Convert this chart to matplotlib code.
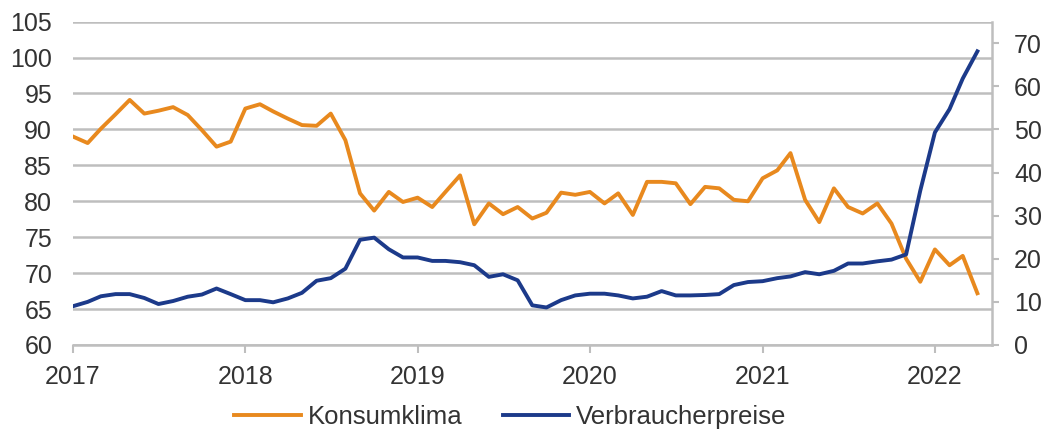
import matplotlib
matplotlib.use("Agg")
import matplotlib.pyplot as plt
import numpy as np
import pandas as pd

plt.rcParams['font.family'] = ['Liberation Sans', 'DejaVu Sans']

# monthly data, Jan 2017 - Apr 2022
months = pd.date_range("2017-01-01", "2022-04-01", freq="MS")

konsumklima = [
    89.0, 88.1, 90.1, 92.1, 94.1, 92.2, 92.6, 93.1, 92.0, 89.9, 87.6, 88.3,   # 2017
    92.9, 93.5, 92.5, 91.5, 90.6, 90.5, 92.2, 88.5, 81.1, 78.7, 81.3, 79.9,   # 2018
    80.5, 79.2, 81.3, 83.6, 76.8, 79.7, 78.2, 79.2, 77.6, 78.4, 81.2, 80.9,   # 2019
    81.3, 79.7, 81.1, 78.1, 82.7, 82.7, 82.5, 79.6, 82.0, 81.8, 80.2, 80.0,   # 2020
    83.2, 84.3, 86.7, 80.2, 77.1, 81.8, 79.2, 78.3, 79.7, 76.9, 72.0, 68.8,   # 2021
    73.3, 71.1, 72.4, 67.2,                                                   # 2022
]

verbraucherpreise = [
    9.0, 10.0, 11.3, 11.8, 11.8, 10.9, 9.5, 10.2, 11.2, 11.7, 13.1, 11.8,     # 2017
    10.4, 10.4, 9.9, 10.8, 12.1, 14.9, 15.5, 17.7, 24.4, 24.9, 22.2, 20.3,    # 2018
    20.3, 19.5, 19.5, 19.2, 18.5, 15.8, 16.4, 15.0, 9.2, 8.7, 10.4, 11.5,     # 2019
    11.9, 11.9, 11.5, 10.8, 11.2, 12.5, 11.5, 11.5, 11.6, 11.8, 13.9, 14.6,   # 2020
    14.8, 15.5, 15.9, 16.9, 16.4, 17.2, 18.9, 18.9, 19.4, 19.8, 21.0, 35.8,   # 2021
    49.3, 54.7, 61.8, 68.1,                                                   # 2022
]

years = ["2017", "2018", "2019", "2020", "2021", "2022"]
left_ticks = [60, 65, 70, 75, 80, 85, 90, 95, 100, 105]
right_ticks = [0, 10, 20, 30, 40, 50, 60, 70]

orange = "#E8891E"
navy = "#1C3A8A"
grid_grey = "#BEBEBE"
text_col = "#333333"

fig = plt.figure(figsize=(10.45, 4.32), dpi=100)
ax = fig.add_axes([0.0699, 0.2014, 0.8794, 0.7486])
ax2 = ax.twinx()

ax.plot(months, konsumklima, color=orange, lw=2.8, solid_joinstyle="round",
        label="Konsumklima", zorder=3)
ax2.plot(months, verbraucherpreise, color=navy, lw=2.8, solid_joinstyle="round",
         label="Verbraucherpreise", zorder=3)

ax.set_ylim(60, 105)
ax2.set_ylim(0, 75)
ax.set_xlim(pd.Timestamp("2017-01-01"), pd.Timestamp("2022-05-02"))

ax.set_yticks(left_ticks)
ax2.set_yticks(right_ticks)
ax.set_xticks([pd.Timestamp(y + "-01-01") for y in years])
ax.set_xticklabels(years)

ax.yaxis.grid(True, color=grid_grey, lw=1.8)
ax.set_axisbelow(True)

for a in (ax, ax2):
    for s in ("top", "left"):
        a.spines[s].set_visible(False)
    a.spines["bottom"].set_color(grid_grey)
    a.spines["bottom"].set_linewidth(1.8)
    a.spines["right"].set_color(grid_grey)
    a.spines["right"].set_linewidth(1.8)
ax.spines["right"].set_visible(False)
ax2.spines["bottom"].set_visible(False)

ax.tick_params(axis="y", length=0, pad=15, labelsize=18, labelcolor=text_col)
ax.tick_params(axis="x", length=5.5, width=1.5, color=grid_grey, pad=9,
               labelsize=18, labelcolor=text_col)
ax2.tick_params(axis="y", length=5, width=1.5, color=grid_grey, pad=11,
                labelsize=18, labelcolor=text_col)

h1, l1 = ax.get_legend_handles_labels()
h2, l2 = ax2.get_legend_handles_labels()
fig.legend(h1 + h2, l1 + l2, loc="center", bbox_to_anchor=(0.4885, 0.034),
           ncol=2, frameon=False, fontsize=18.5, handlelength=2.6,
           handletextpad=0.27, columnspacing=1.55, labelcolor=text_col)

fig.savefig("out.png", dpi=100)
